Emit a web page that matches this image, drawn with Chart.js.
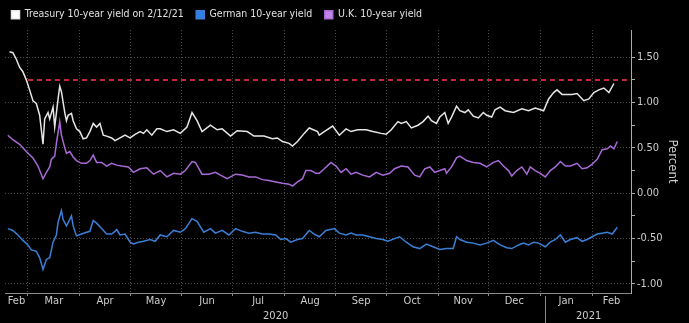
<!DOCTYPE html>
<html>
<head>
<meta charset="utf-8">
<script src="https://cdn.jsdelivr.net/npm/chart.js@4.4.1/dist/chart.umd.min.js"></script>
<style>
    html, body { margin: 0; padding: 0; background: #000; }
    #wrap { width: 689px; height: 323px; position: relative; }
</style>
</head>
<body>
<div id="wrap"><canvas id="myChart"></canvas></div>
<script>
// Day numbers are counted from 1 Mar 2020 (day 0)
var tsyDays = [-11, -9, -7, -5, -3, -1, 1, 3, 5, 7, 9, 10, 12, 13, 15, 16, 18, 19, 20, 22, 23, 24, 26, 27, 29,
    31, 33, 35, 37, 39, 41, 43, 45, 47, 50, 52, 55, 58, 61, 64, 67, 69, 71, 74, 77, 79, 83, 87, 91, 95, 98,
    101, 104, 109, 113, 116, 121, 125, 131, 135, 141, 146, 149, 152, 156, 158, 161, 165, 168, 173, 174, 177,
    182, 186, 190, 193, 197, 202, 206, 211, 214, 217, 221, 223, 226, 229, 233, 236, 239, 241, 244, 246, 249,
    251, 253, 256, 258, 261, 263, 266, 269, 272, 274, 277, 279, 282, 285, 290, 295, 299, 303, 308, 311, 314,
    316, 319, 321, 325, 328, 332, 335, 338, 341, 344, 347, 350];
var tsyYield = [1.56, 1.55, 1.48, 1.39, 1.34, 1.25, 1.14, 1.02, 0.99, 0.86, 0.54, 0.82, 0.89, 0.82, 0.95, 0.73,
    1.04, 1.18, 1.12, 0.89, 0.80, 0.86, 0.88, 0.80, 0.71, 0.68, 0.60, 0.61, 0.68, 0.77, 0.73, 0.77, 0.64, 0.63,
    0.61, 0.58, 0.61, 0.64, 0.61, 0.65, 0.68, 0.66, 0.70, 0.64, 0.71, 0.71, 0.68, 0.70, 0.66, 0.73, 0.89, 0.80,
    0.68, 0.75, 0.70, 0.71, 0.63, 0.69, 0.68, 0.63, 0.63, 0.60, 0.61, 0.57, 0.55, 0.52, 0.57, 0.66, 0.72, 0.68,
    0.64, 0.68, 0.74, 0.64, 0.71, 0.68, 0.70, 0.70, 0.68, 0.66, 0.65, 0.70, 0.79, 0.77, 0.79, 0.72, 0.75, 0.79,
    0.85, 0.80, 0.77, 0.84, 0.89, 0.77, 0.84, 0.96, 0.91, 0.89, 0.92, 0.85, 0.83, 0.89, 0.86, 0.84, 0.92, 0.95,
    0.91, 0.89, 0.93, 0.91, 0.94, 0.91, 1.04, 1.11, 1.14, 1.09, 1.09, 1.09, 1.10, 1.02, 1.04, 1.11, 1.14, 1.16,
    1.11, 1.21];

var deDays = [-12, -9, -6, -3, 0, 2, 5, 7, 9, 11, 13, 15, 17, 18, 20, 21, 23, 26, 27, 29, 32, 35, 37, 39, 41,
    44, 47, 50, 52, 53, 55, 58, 61, 63, 66, 69, 73, 76, 79, 83, 87, 91, 94, 98, 101, 105, 109, 112, 116, 120,
    124, 128, 132, 136, 140, 144, 148, 151, 154, 157, 161, 164, 168, 171, 174, 178, 183, 186, 190, 193, 196,
    200, 204, 208, 212, 215, 219, 222, 226, 230, 234, 238, 242, 246, 250, 254, 256, 258, 262, 266, 270, 274,
    278, 282, 286, 289, 293, 296, 299, 302, 305, 309, 312, 315, 318, 321, 324, 328, 331, 334, 337, 340, 343,
    346, 349, 352];
var deYield = [-0.39, -0.41, -0.46, -0.52, -0.57, -0.625, -0.64, -0.71, -0.84, -0.73, -0.71, -0.54, -0.46,
    -0.32, -0.19, -0.29, -0.36, -0.25, -0.36, -0.47, -0.45, -0.43, -0.42, -0.30, -0.33, -0.39, -0.45, -0.45,
    -0.42, -0.40, -0.46, -0.45, -0.54, -0.56, -0.54, -0.53, -0.51, -0.53, -0.46, -0.48, -0.41, -0.43, -0.39,
    -0.28, -0.31, -0.43, -0.39, -0.44, -0.41, -0.46, -0.39, -0.42, -0.44, -0.43, -0.45, -0.45, -0.46, -0.51,
    -0.50, -0.54, -0.51, -0.50, -0.41, -0.45, -0.48, -0.41, -0.39, -0.44, -0.46, -0.44, -0.46, -0.46, -0.48,
    -0.50, -0.51, -0.53, -0.50, -0.48, -0.54, -0.59, -0.61, -0.56, -0.59, -0.62, -0.61, -0.61, -0.48, -0.51,
    -0.54, -0.55, -0.57, -0.55, -0.52, -0.57, -0.60, -0.61, -0.57, -0.55, -0.57, -0.54, -0.55, -0.59, -0.54,
    -0.51, -0.46, -0.54, -0.51, -0.49, -0.53, -0.51, -0.48, -0.45, -0.44, -0.43, -0.45, -0.375];

var ukDays = [-12, -9, -5, -1, 3, 6, 9, 11, 13, 14, 16, 17, 19, 20, 22, 23, 25, 27, 29, 32, 35, 37, 39, 41, 44,
    47, 50, 53, 56, 60, 63, 67, 71, 75, 79, 83, 87, 91, 94, 98, 100, 104, 108, 112, 115, 119, 124, 128, 132,
    136, 140, 144, 148, 152, 156, 158, 161, 164, 166, 169, 172, 174, 177, 181, 184, 187, 190, 193, 196, 200,
    204, 208, 212, 216, 219, 223, 227, 231, 234, 237, 240, 243, 246, 249, 250, 253, 256, 258, 262, 266, 270,
    274, 278, 281, 284, 287, 289, 292, 295, 298, 300, 303, 306, 309, 312, 315, 318, 321, 324, 328, 331, 334,
    337, 340, 343, 346, 348, 350, 352];
var ukYield = [0.64, 0.59, 0.54, 0.46, 0.39, 0.30, 0.16, 0.23, 0.29, 0.375, 0.41, 0.55, 0.79, 0.64, 0.50, 0.44,
    0.46, 0.40, 0.36, 0.33, 0.33, 0.36, 0.42, 0.34, 0.34, 0.30, 0.33, 0.31, 0.30, 0.29, 0.23, 0.27, 0.28, 0.21,
    0.25, 0.18, 0.22, 0.21, 0.25, 0.35, 0.34, 0.21, 0.21, 0.23, 0.20, 0.16, 0.21, 0.20, 0.18, 0.18, 0.15, 0.14,
    0.125, 0.11, 0.10, 0.08, 0.125, 0.16, 0.25, 0.25, 0.22, 0.22, 0.27, 0.34, 0.30, 0.23, 0.27, 0.21, 0.23,
    0.20, 0.18, 0.23, 0.20, 0.22, 0.27, 0.30, 0.29, 0.20, 0.18, 0.27, 0.29, 0.23, 0.25, 0.27, 0.22, 0.29, 0.39,
    0.41, 0.36, 0.34, 0.33, 0.29, 0.34, 0.36, 0.30, 0.25, 0.19, 0.25, 0.29, 0.21, 0.29, 0.25, 0.22, 0.18, 0.25,
    0.29, 0.35, 0.30, 0.30, 0.33, 0.27, 0.28, 0.32, 0.375, 0.48, 0.49, 0.52, 0.49, 0.57];

// Pre-pandemic reference level, drawn from 1 Mar 2020 onwards
var refLevel = 1.25;

// Axis labels
var monthStarts = [-29, 0, 31, 61, 92, 122, 153, 184, 214, 245, 275, 306, 337, 365];
var monthLabels = ["Feb", "Mar", "Apr", "May", "Jun", "Jul", "Aug", "Sep", "Oct", "Nov", "Dec", "Jan", "Feb"];
var yearStarts = [-60, 306, 400];
var yearLabels = ["2020", "2021"];
var yTickValues = [-1, -0.75, -0.5, -0.25, 0, 0.25, 0.5, 0.75, 1, 1.25, 1.5];

var xMin = -13.7;
var xMax = 360.2;

var FONT = "'DejaVu Sans Condensed', 'DejaVu Sans', sans-serif";
Chart.defaults.font.family = FONT;
Chart.defaults.color = "#cccccc";

function toPoints(days, values) {
    return days.map((d, i) => ({ x: d, y: values[i] }));
}

function midOf(a, b) {
    return (Math.max(a, xMin) + Math.min(b, xMax)) / 2;
}

// Month names under the axis, centred in each month, plus the year row
var bottomLabels = {
    id: "bottomLabels",
    afterDraw(chart) {
        const ctx = chart.ctx;
        const x = chart.scales.x;
        const top = chart.chartArea.bottom;
        ctx.save();
        ctx.fillStyle = "#cccccc";
        ctx.font = "11px " + FONT;
        ctx.textAlign = "center";
        ctx.textBaseline = "middle";
        monthLabels.forEach((m, i) => {
            ctx.fillText(m, x.getPixelForValue(midOf(monthStarts[i], monthStarts[i + 1])), top + 8);
        });
        yearLabels.forEach((y, i) => {
            ctx.fillText(y, x.getPixelForValue(midOf(yearStarts[i], yearStarts[i + 1])) + 3, top + 23);
        });
        // divider between the years
        const sx = Math.round(x.getPixelForValue(yearStarts[1])) + 5.5;
        ctx.strokeStyle = "#888888";
        ctx.lineWidth = 1;
        ctx.beginPath();
        ctx.moveTo(sx, top + 3);
        ctx.lineTo(sx, chart.height);
        ctx.stroke();
        ctx.restore();
    }
};

// Legend entries get a little trailing room so the items sit further apart
function legendItems(chart) {
    const items = Chart.defaults.plugins.legend.labels.generateLabels(chart);
    return items.filter(it => it.datasetIndex < 3).map(it => {
        it.text = it.text + "  ";
        return it;
    });
}

var datasets = [
    {
        label: "Treasury 10-year yield on 2/12/21",
        data: toPoints(tsyDays, tsyYield),
        borderColor: "#e6e6e6",
        backgroundColor: "#ffffff",
        borderWidth: 1.5
    },
    {
        label: "German 10-year yield",
        data: toPoints(deDays, deYield),
        borderColor: "#3b7fd6",
        backgroundColor: "#2f7fe6",
        borderWidth: 1.5
    },
    {
        label: "U.K. 10-year yield",
        data: toPoints(ukDays, ukYield),
        borderColor: "#a86ad6",
        backgroundColor: "#c284ec",
        borderWidth: 1.5
    },
    {
        label: "ref",
        data: [{ x: 0, y: refLevel }, { x: xMax, y: refLevel }],
        borderColor: "#c4283c",
        borderWidth: 2,
        borderDash: [5, 4]
    }
];

var config = {
    type: "line",
    data: { datasets: datasets },
    options: {
        responsive: true,
        maintainAspectRatio: false,
        animation: false,
        layout: { padding: { left: 5, top: 3, right: 0, bottom: 0 } },
        elements: {
            point: { radius: 0 },
            line: { tension: 0, fill: false }
        },
        plugins: {
            tooltip: { enabled: false },
            legend: {
                position: "top",
                align: "start",
                labels: {
                    color: "#e0e0e0",
                    font: { size: 10.5 },
                    boxWidth: 8,
                    boxHeight: 8,
                    padding: 6.5,
                    generateLabels: legendItems
                }
            }
        },
        scales: {
            x: {
                type: "linear",
                min: xMin,
                max: xMax,
                afterBuildTicks: scale => {
                    scale.ticks = monthStarts.filter(v => v > xMin && v < xMax).map(v => ({ value: v }));
                },
                afterFit: scale => { scale.height = 30; },
                ticks: { display: false },
                grid: { color: "#4a4a4a", tickColor: "#8a8a8a", tickLength: 3 },
                border: { display: true, color: "#8a8a8a", dash: [1, 2] }
            },
            y: {
                position: "right",
                min: -1.1,
                max: 1.8,
                afterBuildTicks: scale => {
                    scale.ticks = yTickValues.map(v => ({ value: v }));
                },
                afterFit: scale => { scale.width = 58; },
                ticks: {
                    color: "#cccccc",
                    font: { size: 11 },
                    padding: 2,
                    callback: v => (Math.abs(v % 0.5) < 1e-9 ? v.toFixed(2) : "")
                },
                grid: {
                    color: ctx => (ctx.tick && Math.abs(ctx.tick.value % 0.5) < 1e-9 ? "#4a4a4a" : "transparent"),
                    tickColor: "#aaaaaa",
                    tickLength: 4
                },
                border: { display: true, color: "#aaaaaa", dash: [1, 2] },
                title: {
                    display: true,
                    text: "Percent",
                    color: "#cccccc",
                    font: { size: 13 },
                    padding: { top: 9, bottom: 0 }
                }
            }
        }
    },
    plugins: [bottomLabels]
};

var myChart = new Chart(document.getElementById("myChart"), config);
</script>
</body>
</html>
